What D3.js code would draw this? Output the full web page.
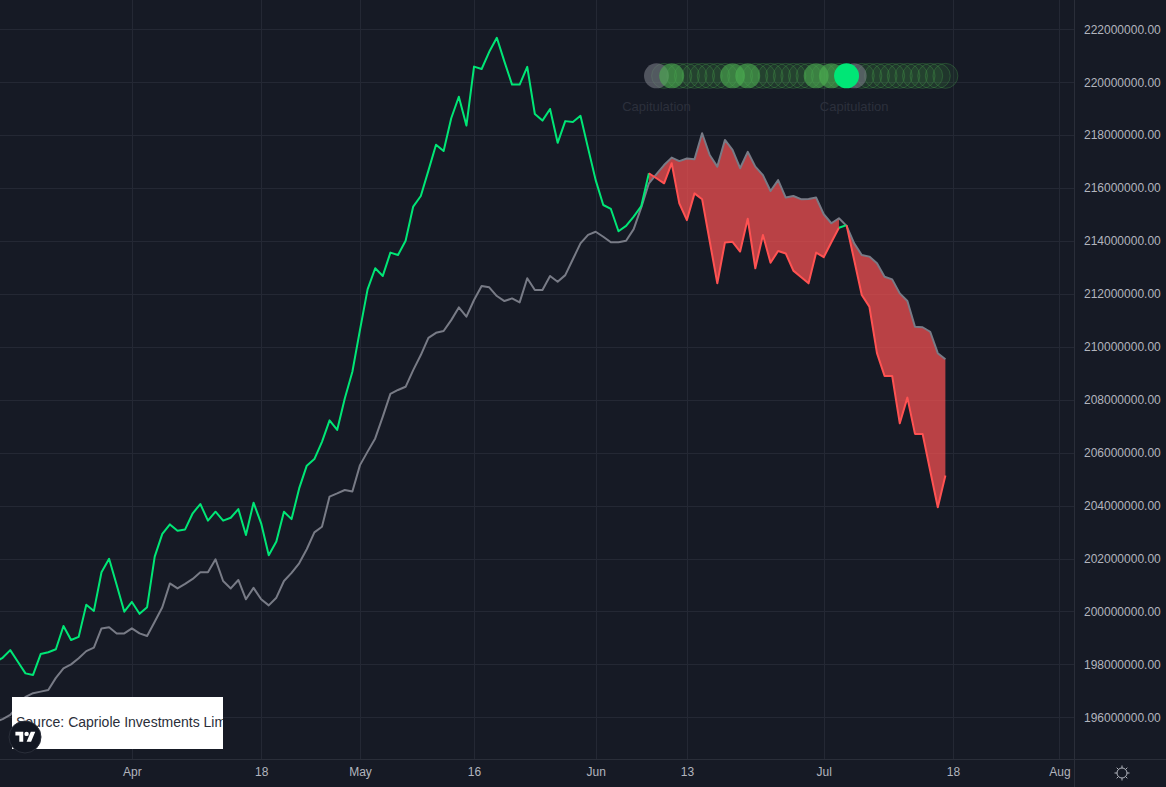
<!DOCTYPE html>
<html><head><meta charset="utf-8">
<script src="https://cdn.jsdelivr.net/npm/d3@7/dist/d3.min.js"></script>
<style>html,body{margin:0;padding:0;background:#161a25;overflow:hidden}</style>
</head><body><svg id="c" width="1166" height="787"></svg>
<script>
// ---- data (values in millions) ----
const startDate = "2022-03-14";
const shortMA = [
198.09,198.25,198.54,198.10,197.66,197.60,198.39,198.46,198.57,199.45,198.92,199.04,200.25,200.02,201.48,201.99,201.00,199.99,
200.36,199.91,200.16,202.07,202.93,203.29,203.05,203.10,203.71,204.06,
203.43,203.77,203.43,203.54,203.87,202.89,204.11,203.33,202.12,202.64,
203.77,203.49,204.65,205.51,205.76,206.41,207.22,206.86,208.05,209.06,
210.64,212.17,212.97,212.68,213.56,213.47,214.01,215.30,215.70,216.66,
217.64,217.40,218.64,219.45,218.36,220.59,220.50,221.15,221.68,220.78,
219.91,219.91,220.58,218.80,218.55,218.99,217.71,218.53,218.50,218.73,
217.51,216.30,215.36,215.21,214.37,214.57,214.92,215.32,216.56,216.37,
216.18,216.94,215.42,214.79,215.80,215.58,213.99,212.40,213.94,213.97,
213.60,214.84,212.97,214.23,213.18,213.62,213.53,212.88,212.64,212.40,
213.56,213.39,213.95,214.50,214.60,213.28,211.96,211.52,209.76,208.90,
208.90,207.11,208.08,206.71,206.71,205.32,203.94,205.14];
const longMA = [
195.82,195.93,196.09,196.43,196.77,196.91,196.97,197.03,197.49,197.85,198.00,198.23,198.50,198.63,199.36,199.40,199.17,199.17,
199.36,199.17,199.07,199.61,200.16,201.06,200.87,201.04,201.23,201.48,
201.48,201.97,201.15,200.87,201.19,200.46,200.89,200.46,200.23,200.52,
201.15,201.46,201.82,202.35,202.99,203.20,204.34,204.46,204.59,204.53,
205.53,206.04,206.54,207.36,208.22,208.37,208.49,209.12,209.69,210.34,
210.53,210.60,211.01,211.49,211.14,211.77,212.30,212.25,211.92,211.73,
211.83,211.68,212.59,212.15,212.15,212.68,212.46,212.71,213.31,213.91,
214.23,214.35,214.16,213.95,213.95,214.01,214.45,215.27,216.18,216.53,
216.87,217.15,217.02,217.12,217.09,218.07,217.25,216.81,217.82,217.44,
216.75,217.37,216.81,216.49,215.89,216.30,215.64,215.70,215.58,215.59,
215.64,215.01,214.67,214.86,214.57,213.91,213.47,213.41,213.16,212.65,
212.55,212.02,211.73,210.76,210.74,210.57,209.76,209.53];
const signalStart = "2022-06-09";
const signalLevel = 220.24;
const signalTypes = [
"cap","faint","mid","faint","faint","faint","faint","faint","faint","faint",
"mid","faint","mid","faint","faint","faint","faint","faint","faint","faint",
"faint","mid","faint","mid","faint","buy","cap","faint","faint","faint",
"faint","faint","faint","faint","faint","faint","faint","faint","faint"];
const capLabel = "Capitulation";
const yTicks = [196,198,200,202,204,206,208,210,212,214,216,218,220,222];
const xTickDates = ["2022-04-01","2022-04-18","2022-05-01","2022-05-16","2022-06-01","2022-06-13","2022-07-01","2022-07-18","2022-08-01"];
const xTickLabels = ["Apr","18","May","16","Jun","13","Jul","18","Aug"];
const sourceText = "Source: Capriole Investments Limited";

// ---- layout ----
const W = 1166, H = 787, plotR = 1074, plotB = 759;
const C = {bg:"#161a25", grid:"#242834", border:"#2a2e39", text:"#b2b5be",
  green:"#00e676", red:"#ff5252", gray:"#787b86", fill:"rgba(255,82,82,0.7)"};
const parse = d3.utcParse("%Y-%m-%d");
const x = d3.scaleUtc().domain([parse("2022-04-01"), parse("2022-07-18")]).range([131.9, 953]);
const y = d3.scaleLinear().domain([196, 222]).range([717.3, 29.3]);

const d0 = parse(startDate);
const data = shortMA.map((s, i) => ({date: d3.utcDay.offset(d0, i), s, l: longMA[i], red: s < longMA[i]}));

const svg = d3.select("#c");
svg.append("rect").attr("width", W).attr("height", H).attr("fill", C.bg);
svg.append("defs").append("clipPath").attr("id", "plotclip")
  .append("rect").attr("x", 0).attr("y", 0).attr("width", plotR).attr("height", plotB);

// grid
const grid = svg.append("g");
grid.selectAll("line.h").data(yTicks).join("line")
  .attr("x1", 0).attr("x2", plotR).attr("y1", d => Math.round(y(d)) + 0.5).attr("y2", d => Math.round(y(d)) + 0.5)
  .attr("stroke", C.grid).attr("stroke-width", 1);
grid.selectAll("line.v").data(xTickDates).join("line")
  .attr("x1", d => Math.round(x(parse(d))) + 0.5).attr("x2", d => Math.round(x(parse(d))) + 0.5)
  .attr("y1", 0).attr("y2", plotB)
  .attr("stroke", C.grid).attr("stroke-width", 1);

const plot = svg.append("g").attr("clip-path", "url(#plotclip)");

// runs of color
const runs = [];
for (let i = 1; i < data.length; i++) {
  const red = data[i].red;
  const last = runs[runs.length - 1];
  if (last && last.red === red) last.pts.push(data[i]);
  else runs.push({red, pts: [data[i - 1], data[i]]});
}

// fills
const area = d3.area().x(d => x(d.date)).y0(d => y(d.l)).y1(d => y(d.s));
plot.selectAll("path.fill").data(runs.filter(r => r.red)).join("path")
  .attr("d", r => area(r.pts)).attr("fill", C.fill).attr("stroke", "none");

const line = d3.line().x(d => x(d.date));
plot.append("path").attr("d", line.y(d => y(d.l))(data))
  .attr("fill", "none").attr("stroke", C.gray).attr("stroke-width", 2).attr("stroke-linejoin", "round");
const lineS = d3.line().x(d => x(d.date)).y(d => y(d.s));
plot.selectAll("path.s").data(runs).join("path")
  .attr("d", r => lineS(r.pts)).attr("fill", "none")
  .attr("stroke", r => r.red ? C.red : C.green).attr("stroke-width", 2).attr("stroke-linejoin", "round");

// signal circles
const s0 = parse(signalStart);
const sig = signalTypes.map((t, i) => ({date: d3.utcDay.offset(s0, i), t}));
const order = {faint: 0, cap: 1, mid: 2, buy: 3};
const style = {
  faint: {fill: "rgba(76,175,80,0.10)", stroke: "rgba(76,175,80,0.28)"},
  cap: {fill: "rgba(120,123,134,0.6)", stroke: "none"},
  mid: {fill: "rgba(76,175,80,0.62)", stroke: "none"},
  buy: {fill: "#00e676", stroke: "none"}
};
plot.selectAll("circle.sig").data(sig.slice().sort((a, b) => order[a.t] - order[b.t])).join("circle")
  .attr("cx", d => x(d.date)).attr("cy", y(signalLevel)).attr("r", 12.5)
  .attr("fill", d => style[d.t].fill).attr("stroke", d => style[d.t].stroke).attr("stroke-width", 1);
plot.selectAll("text.cap").data(sig.filter(d => d.t === "cap")).join("text")
  .attr("x", d => x(d.date)).attr("y", y(signalLevel) + 35)
  .attr("text-anchor", "middle").attr("font-family", "Liberation Sans, Arial, sans-serif")
  .attr("font-size", 13).attr("fill", "#2c303c").text(capLabel);

// axes borders
svg.append("line").attr("x1", plotR + 0.5).attr("x2", plotR + 0.5).attr("y1", 0).attr("y2", H)
  .attr("stroke", C.border).attr("stroke-width", 1);
svg.append("line").attr("x1", 0).attr("x2", W).attr("y1", plotB + 0.5).attr("y2", plotB + 0.5)
  .attr("stroke", C.border).attr("stroke-width", 1);

// y axis labels (right)
const yAxis = d3.axisRight(y).tickValues(yTicks).tickSize(0).tickPadding(0)
  .tickFormat(d => (d * 1e6).toFixed(2));
const ya = svg.append("g").attr("transform", `translate(${plotR + 10},0)`).call(yAxis);
ya.select(".domain").remove();
ya.selectAll("text").attr("fill", C.text).attr("font-size", 12)
  .attr("font-family", "Liberation Sans, Arial, sans-serif");

// x axis labels
const xAxis = d3.axisBottom(x).tickValues(xTickDates.map(parse)).tickSize(0).tickPadding(0)
  .tickFormat((d, i) => xTickLabels[i]);
const xa = svg.append("g").attr("transform", `translate(0,${plotB + 8})`).call(xAxis);
xa.select(".domain").remove();
xa.selectAll("text").attr("fill", C.text).attr("font-size", 12)
  .attr("font-family", "Liberation Sans, Arial, sans-serif");

// gear icon
const gear = svg.append("g").attr("transform", "translate(1122,773)")
  .attr("stroke", C.text).attr("fill", "none").attr("stroke-width", 1);
gear.append("circle").attr("r", 5);
d3.range(8).forEach(k => {
  const a = k * Math.PI / 4;
  gear.append("line").attr("x1", Math.cos(a) * 5).attr("y1", Math.sin(a) * 5)
    .attr("x2", Math.cos(a) * 7.5).attr("y2", Math.sin(a) * 7.5);
});

// source box
svg.append("defs").append("clipPath").attr("id", "srcclip")
  .append("rect").attr("x", 12).attr("y", 697).attr("width", 211).attr("height", 52);
svg.append("rect").attr("x", 12).attr("y", 697).attr("width", 211).attr("height", 52).attr("fill", "#ffffff");
svg.append("text").attr("clip-path", "url(#srcclip)").attr("x", 16).attr("y", 727)
  .attr("font-family", "Liberation Sans, Arial, sans-serif").attr("font-size", 14)
  .attr("fill", "#2a2e39").text(sourceText);

// TV logo
const logo = svg.append("g").attr("transform", "translate(25,737)");
logo.append("circle").attr("r", 16).attr("fill", "#131722").attr("stroke", "#2a2e39").attr("stroke-width", 1);
const gl = logo.append("g").attr("transform", "translate(-9.6,-7.6) scale(0.56)").attr("fill", "#ffffff");
gl.append("path").attr("d", "M14 22H7V11H0V4h14v18zM28 22h-8l7.5-18h8L28 22z");
gl.append("circle").attr("cx", 20).attr("cy", 8).attr("r", 4);
</script></body></html>
